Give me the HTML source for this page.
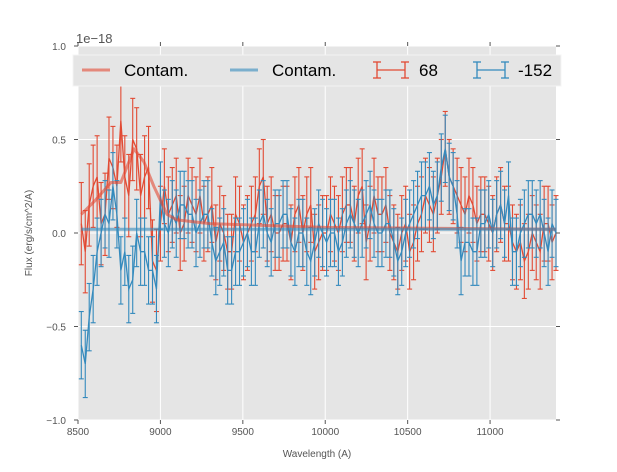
<!DOCTYPE html>
<html><head><meta charset="utf-8"><style>
body{margin:0;background:#fff;}
svg text{font-family:"Liberation Sans",sans-serif;}
</style></head><body>
<svg id="chart" width="617" height="467" xmlns="http://www.w3.org/2000/svg">
<rect x="78" y="46" width="478" height="374" fill="#e5e5e5"/>
<g id="grid"></g>
<g id="series"></g>
<g id="ticks"></g>
<text x="76" y="43" font-size="13" fill="#555">1e−18</text>
<text x="317" y="457" font-size="10" fill="#555" text-anchor="middle">Wavelength (A)</text>
<text transform="translate(32,233) rotate(-90)" font-size="10" fill="#555" text-anchor="middle">Flux (erg/s/cm^2/A)</text>
<g>
<rect x="73" y="55" width="488" height="31" fill="#e5e5e5" stroke="#f4f4f4" stroke-width="1"/>
<g><line x1="82" y1="70" x2="110" y2="70" stroke="#e24a33" stroke-opacity="0.6" stroke-width="3"/><text x="124" y="76" font-size="17">Contam.</text></g>
<g><line x1="230" y1="70" x2="258" y2="70" stroke="#348abd" stroke-opacity="0.6" stroke-width="3"/><text x="272" y="76" font-size="17">Contam.</text></g>
<g stroke="#e24a33" stroke-width="1.3"><line x1="377" y1="70" x2="405" y2="70"/><line x1="377" y1="62" x2="377" y2="78"/><line x1="405" y1="62" x2="405" y2="78"/><line x1="373" y1="62" x2="381" y2="62"/><line x1="373" y1="78" x2="381" y2="78"/><line x1="401" y1="62" x2="409" y2="62"/><line x1="401" y1="78" x2="409" y2="78"/></g>
<text x="419" y="76" font-size="17">68</text>
<g stroke="#348abd" stroke-width="1.3"><line x1="477" y1="70" x2="505" y2="70"/><line x1="477" y1="62" x2="477" y2="78"/><line x1="505" y1="62" x2="505" y2="78"/><line x1="473" y1="62" x2="481" y2="62"/><line x1="473" y1="78" x2="481" y2="78"/><line x1="501" y1="62" x2="509" y2="62"/><line x1="501" y1="78" x2="509" y2="78"/></g>
<text x="518" y="76" font-size="17">-152</text>
</g>
</svg>
<script>
const wavelengths=[8520,8544,8568,8592,8616,8640,8664,8688,8712,8736,8760,8784,8808,8832,8856,8880,8904,8928,8952,8976,9000,9024,9048,9072,9096,9120,9144,9168,9192,9216,9240,9264,9288,9312,9336,9360,9384,9408,9432,9456,9480,9504,9528,9552,9576,9600,9624,9648,9672,9696,9720,9744,9768,9792,9816,9840,9864,9888,9912,9936,9960,9984,10008,10032,10056,10080,10104,10128,10152,10176,10200,10224,10248,10272,10296,10320,10344,10368,10392,10416,10440,10464,10488,10512,10536,10560,10584,10608,10632,10656,10680,10704,10728,10752,10776,10800,10824,10848,10872,10896,10920,10944,10968,10992,11016,11040,11064,11088,11112,11136,11160,11184,11208,11232,11256,11280,11304,11328,11352,11376,11400];
const redFlux=[0.05,-0.1,0.15,0.25,0.3,0.05,0.1,0.4,0.35,0.25,0.6,0.3,0.2,0.5,0.45,0.2,0.3,0.35,-0.15,-0.2,0.05,0.25,0.1,0.15,0.2,0.0,0.05,0.2,0.15,0.1,0.2,0.05,0.1,0.15,-0.05,0.05,0.0,-0.1,-0.1,0.1,0.05,-0.05,0.0,0.05,0.1,0.25,0.3,0.05,0.1,0.0,0.0,0.05,0.05,-0.05,0.1,0.15,0.0,0.1,0.15,-0.1,-0.05,0.0,0.0,0.1,0.05,0.0,0.1,0.15,0.15,0.05,0.2,0.25,-0.05,0.05,0.2,0.1,0.1,0.15,0.0,-0.05,-0.1,0.0,0.05,-0.1,-0.05,0.05,0.1,0.2,0.15,0.1,0.2,0.3,0.45,0.3,0.25,0.2,0.15,0.1,0.2,0.15,0.05,0.1,0.1,0.05,0.0,0.1,0.15,0.05,0.05,-0.05,-0.1,-0.05,-0.15,-0.1,0.0,-0.05,-0.1,0.05,0.05,-0.05,0.0];
const blueFlux=[-0.6,-0.7,-0.45,-0.3,-0.1,0.0,0.1,0.05,0.25,0.1,-0.2,-0.1,-0.3,-0.25,0.0,-0.1,-0.1,-0.2,-0.2,-0.3,0.2,0.05,0.0,0.1,0.05,0.15,0.15,0.1,0.1,0.0,0.05,0.1,0.1,-0.05,-0.15,-0.1,-0.05,-0.2,-0.2,-0.1,-0.1,-0.05,0.0,-0.1,-0.1,0.05,0.1,0.0,-0.05,0.05,0.05,0.1,0.1,-0.05,-0.1,0.0,0.0,-0.1,-0.15,-0.05,0.05,0.0,-0.05,0.0,0.0,-0.1,-0.05,0.05,0.1,0.05,0.0,0.05,0.1,0.15,0.05,0.0,0.0,0.05,0.05,-0.05,-0.15,-0.1,0.0,0.05,0.1,0.15,0.2,0.2,0.25,0.15,0.2,0.35,0.45,0.3,0.25,0.1,-0.15,-0.05,-0.05,-0.1,-0.1,0.05,0.05,0.1,0.0,0.1,0.15,0.05,0.2,-0.1,-0.1,0.0,0.05,0.1,0.1,0.05,0.1,0.0,-0.1,0.05,0.0];
const redErr=[0.22,0.22,0.22,0.22,0.22,0.22,0.22,0.22,0.22,0.22,0.22,0.22,0.22,0.22,0.22,0.22,0.22,0.22,0.22,0.22,0.2,0.2,0.2,0.2,0.2,0.2,0.2,0.2,0.2,0.2,0.2,0.2,0.2,0.2,0.2,0.2,0.2,0.2,0.2,0.2,0.2,0.2,0.2,0.2,0.2,0.2,0.2,0.2,0.2,0.2,0.2,0.2,0.2,0.2,0.2,0.2,0.2,0.2,0.2,0.2,0.2,0.2,0.2,0.2,0.2,0.2,0.2,0.2,0.2,0.2,0.2,0.2,0.2,0.2,0.2,0.2,0.2,0.2,0.2,0.2,0.2,0.2,0.2,0.2,0.2,0.2,0.2,0.2,0.2,0.2,0.2,0.2,0.2,0.2,0.2,0.2,0.2,0.2,0.2,0.2,0.2,0.2,0.2,0.2,0.2,0.2,0.2,0.2,0.2,0.2,0.2,0.2,0.2,0.2,0.2,0.2,0.2,0.2,0.2,0.2,0.2];
const blueErr=[0.18,0.18,0.18,0.18,0.18,0.18,0.18,0.18,0.18,0.18,0.18,0.18,0.18,0.18,0.18,0.18,0.18,0.18,0.18,0.18,0.18,0.18,0.18,0.18,0.18,0.18,0.18,0.18,0.18,0.18,0.18,0.18,0.18,0.18,0.18,0.18,0.18,0.18,0.18,0.18,0.18,0.18,0.18,0.18,0.18,0.18,0.18,0.18,0.18,0.18,0.18,0.18,0.18,0.18,0.18,0.18,0.18,0.18,0.18,0.18,0.18,0.18,0.18,0.18,0.18,0.18,0.18,0.18,0.18,0.18,0.18,0.18,0.18,0.18,0.18,0.18,0.18,0.18,0.18,0.18,0.18,0.18,0.18,0.18,0.18,0.18,0.18,0.18,0.18,0.18,0.18,0.18,0.18,0.18,0.18,0.18,0.18,0.18,0.18,0.18,0.18,0.18,0.18,0.18,0.18,0.18,0.18,0.18,0.18,0.18,0.18,0.18,0.18,0.18,0.18,0.18,0.18,0.18,0.18,0.18,0.18];
const contamX=[8520,8600,8700,8760,8840,8900,8960,9040,9100,9300,10000,11400];
const redContam=[0.1,0.17,0.27,0.27,0.45,0.38,0.25,0.1,0.07,0.05,0.03,0.02];
const blueContam=[0.02,0.02,0.02,0.02,0.02,0.02,0.02,0.02,0.02,0.02,0.02,0.02];
const xTicks=[8500,9000,9500,10000,10500,11000];
const yTicks=[-1.0,-0.5,0.0,0.5,1.0];
const yTickLabels=["−1.0","−0.5","0.0","0.5","1.0"];

const X0=78,X1=556,Y0=420,Y1=46,XMIN=8500,XMAX=11400,YMIN=-1,YMAX=1;
const sx=v=>X0+(v-XMIN)/(XMAX-XMIN)*(X1-X0);
const sy=v=>Y0-(v-YMIN)/(YMAX-YMIN)*(Y0-Y1);
const NS="http://www.w3.org/2000/svg";
function mk(tag,attrs,parent){const e=document.createElementNS(NS,tag);for(const k in attrs)e.setAttribute(k,attrs[k]);parent.appendChild(e);return e;}
const grid=document.getElementById('grid'),ticks=document.getElementById('ticks'),series=document.getElementById('series');
xTicks.forEach(t=>{const x=sx(t);
 const g=mk('line',{x1:x,x2:x,y1:Y1,y2:Y0,stroke:'#fff','stroke-width':1},grid);
 
 
 mk('line',{x1:x,x2:x,y1:Y0,y2:Y0+4,stroke:'#555'},ticks);
 mk('line',{x1:x,x2:x,y1:Y1,y2:Y1-4,stroke:'#555'},ticks);
 const tx=mk('text',{x:x,y:Y0+15,'font-size':10,fill:'#555','text-anchor':'middle'},ticks);tx.textContent=t;
 
 
});
yTicks.forEach((t,i)=>{const y=sy(t);
 const g=mk('line',{x1:X0,x2:X1,y1:y,y2:y,stroke:'#fff','stroke-width':1},grid);
 
 
 mk('line',{x1:X0-4,x2:X0,y1:y,y2:y,stroke:'#555'},ticks);
 mk('line',{x1:X1,x2:X1+4,y1:y,y2:y,stroke:'#555'},ticks);
 const tx=mk('text',{x:X0-12,y:y+4,'font-size':10,fill:'#555','text-anchor':'end'},ticks);tx.textContent=yTickLabels[i];
 
 
});
function drawErr(vals,errs,color,name){
 const g=mk('g',{stroke:color,'stroke-width':1.1,fill:'none'},series);
 
 
 vals.forEach((v,i)=>{const x=sx(wavelengths[i]);const a=sy(v+errs[i]),b=sy(v-errs[i]);
  mk('line',{x1:x,x2:x,y1:a,y2:b},g);mk('line',{x1:x-2.5,x2:x+2.5,y1:a,y2:a},g);mk('line',{x1:x-2.5,x2:x+2.5,y1:b,y2:b},g);});
 const p=mk('polyline',{points:vals.map((v,i)=>sx(wavelengths[i])+','+sy(v)).join(' '),'stroke-width':1.3},g);
 
 
}
function drawContam(vals,color,name){
 const p=mk('polyline',{points:vals.map((v,i)=>sx(contamX[i])+','+sy(v)).join(' '),stroke:color,'stroke-opacity':0.6,'stroke-width':3,fill:'none','stroke-linejoin':'round'},series);
 
 
}
drawErr(redFlux,redErr,'#e24a33','series-68');
drawErr(blueFlux,blueErr,'#348abd','series-152');
drawContam(redContam,'#e24a33','contam-red-line');
drawContam(blueContam,'#348abd','contam-blue-line');
</script>
</body></html>
